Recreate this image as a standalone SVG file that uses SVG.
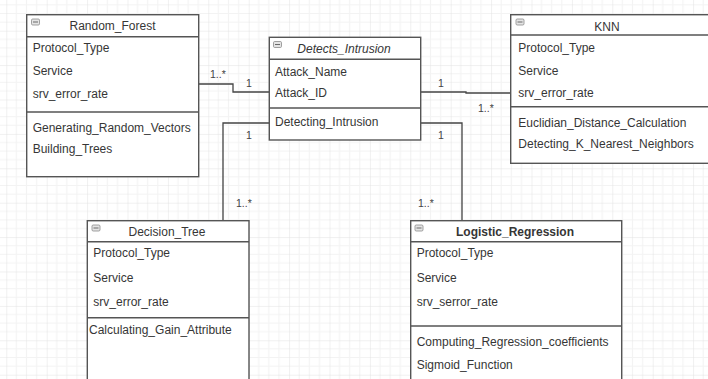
<svg xmlns="http://www.w3.org/2000/svg" width="708" height="379" viewBox="0 0 708 379">
  <style>
    .box { fill: #ffffff; stroke: #555555; stroke-width: 1.4; }
    .sep { stroke: #555555; stroke-width: 1.4; fill: none; }
    .icon { fill: #e4e4e4; stroke: #8a8a8a; stroke-width: 0.8; }
    .dash { stroke: #6a6a6a; stroke-width: 1; }
    .txt { font-family: "Liberation Sans", Arial, sans-serif; font-size: 12px; fill: #363636; }
    .title { font-family: "Liberation Sans", Arial, sans-serif; font-size: 12px; fill: #363636; text-anchor: middle; }
    .lbl { font-family: "Liberation Sans", Arial, sans-serif; font-size: 10.5px; fill: #444444; }
    .conn { stroke: #444444; stroke-width: 1.3; fill: none; }
  </style>
  <defs>
    <pattern id="grid" patternUnits="userSpaceOnUse" x="46.7" y="30.7" width="40.4" height="34.4">
      <rect width="40.4" height="34.4" fill="#ffffff"/>
      <path d="M10.1 0V34.4M20.2 0V34.4M30.3 0V34.4M0 8.6H40.4M0 17.2H40.4M0 25.8H40.4" stroke="#f3f3f3" stroke-width="1"/>
      <path d="M0 0V34.4M0 0H40.4" stroke="#e2e2e2" stroke-width="1"/>
    </pattern>
  </defs>

  <!-- canvas grid -->
  <rect width="708" height="379" fill="url(#grid)"/>

  <!-- associations -->
  <g id="connectors">
    <path class="conn" d="M199 84H233V92H269"/>
    <path class="conn" d="M269 123H223V221"/>
    <path class="conn" d="M421 92H466V93H511"/>
    <path class="conn" d="M421 123H462V221"/>
    <text class="lbl" x="210" y="78">1..*</text>
    <text class="lbl" x="246" y="87">1</text>
    <text class="lbl" x="246" y="139">1</text>
    <text class="lbl" x="236" y="207">1..*</text>
    <text class="lbl" x="438" y="87">1</text>
    <text class="lbl" x="438" y="139">1</text>
    <text class="lbl" x="478" y="112">1..*</text>
    <text class="lbl" x="418" y="207">1..*</text>
  </g>

  <!-- Random_Forest -->
  <g id="random-forest">
    <rect class="box" x="26.7" y="14.7" width="172" height="162"/>
    <line class="sep" x1="26.7" y1="36.7" x2="198.7" y2="36.7"/>
    <line class="sep" x1="26.7" y1="112" x2="198.7" y2="112"/>
    <rect class="icon" x="31.5" y="19" width="8" height="6" rx="1.2"/>
    <line class="dash" x1="33" y1="22" x2="38" y2="22"/>
    <text class="title" x="112.5" y="30">Random_Forest</text>
    <text class="txt" x="32.7" y="52">Protocol_Type</text>
    <text class="txt" x="32.7" y="75">Service</text>
    <text class="txt" x="32.7" y="98">srv_error_rate</text>
    <text class="txt" x="32.7" y="132">Generating_Random_Vectors</text>
    <text class="txt" x="32.7" y="153">Building_Trees</text>
  </g>

  <!-- Detects_Intrusion -->
  <g id="detects-intrusion">
    <rect class="box" x="269.3" y="37.3" width="151.4" height="102.7"/>
    <line class="sep" x1="269.3" y1="59.3" x2="420.7" y2="59.3"/>
    <line class="sep" x1="269.3" y1="108" x2="420.7" y2="108"/>
    <rect class="icon" x="273.5" y="41.5" width="8" height="6" rx="1.2"/>
    <line class="dash" x1="275" y1="44.5" x2="280" y2="44.5"/>
    <text class="title" x="344" y="53.3" font-style="italic">Detects_Intrusion</text>
    <text class="txt" x="275" y="75.7">Attack_Name</text>
    <text class="txt" x="275" y="97.3">Attack_ID</text>
    <text class="txt" x="275" y="126">Detecting_Intrusion</text>
  </g>

  <!-- KNN -->
  <g id="knn">
    <rect class="box" x="510.7" y="14.7" width="200" height="148.6"/>
    <line class="sep" x1="510.7" y1="35" x2="710" y2="35"/>
    <line class="sep" x1="510.7" y1="106.7" x2="710" y2="106.7"/>
    <rect class="icon" x="516" y="19" width="8" height="6" rx="1.2"/>
    <line class="dash" x1="517.5" y1="22" x2="522.5" y2="22"/>
    <text class="title" x="607" y="30.5">KNN</text>
    <text class="txt" x="518.3" y="52">Protocol_Type</text>
    <text class="txt" x="518.3" y="75">Service</text>
    <text class="txt" x="518.3" y="97">srv_error_rate</text>
    <text class="txt" x="518.3" y="127">Euclidian_Distance_Calculation</text>
    <text class="txt" x="518.3" y="148">Detecting_K_Nearest_Neighbors</text>
  </g>

  <!-- Decision_Tree -->
  <g id="decision-tree">
    <rect class="box" x="87.3" y="220.7" width="161.7" height="170"/>
    <line class="sep" x1="87.3" y1="241.7" x2="249" y2="241.7"/>
    <line class="sep" x1="87.3" y1="317.7" x2="249" y2="317.7"/>
    <rect class="icon" x="92" y="225" width="8" height="6" rx="1.2"/>
    <line class="dash" x1="93.5" y1="228" x2="98.5" y2="228"/>
    <text class="title" x="167" y="235.7">Decision_Tree</text>
    <text class="txt" x="93.3" y="256.7">Protocol_Type</text>
    <text class="txt" x="93.3" y="281.7">Service</text>
    <text class="txt" x="93.3" y="306">srv_error_rate</text>
    <text class="txt" x="89" y="334">Calculating_Gain_Attribute</text>
  </g>

  <!-- Logistic_Regression -->
  <g id="logistic-regression">
    <rect class="box" x="410.7" y="220.7" width="211" height="170"/>
    <line class="sep" x1="410.7" y1="241.7" x2="621.7" y2="241.7"/>
    <line class="sep" x1="410.7" y1="326" x2="621.7" y2="326"/>
    <rect class="icon" x="415" y="225" width="8" height="6" rx="1.2"/>
    <line class="dash" x1="416.5" y1="228" x2="421.5" y2="228"/>
    <text class="title" x="515" y="236" font-weight="bold">Logistic_Regression</text>
    <text class="txt" x="416.7" y="256.7">Protocol_Type</text>
    <text class="txt" x="416.7" y="282">Service</text>
    <text class="txt" x="416.7" y="306">srv_serror_rate</text>
    <text class="txt" x="416.7" y="345.7">Computing_Regression_coefficients</text>
    <text class="txt" x="416.7" y="369">Sigmoid_Function</text>
  </g>
</svg>
